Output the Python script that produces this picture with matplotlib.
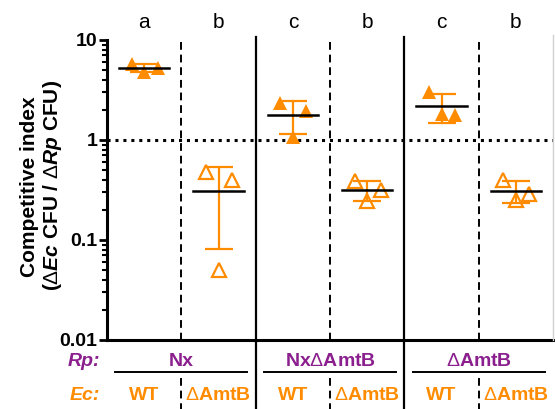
import numpy as np
import matplotlib.pyplot as plt
from matplotlib.lines import Line2D
from matplotlib.transforms import blended_transform_factory

plt.rcParams['font.family'] = ['Liberation Sans', 'DejaVu Sans']
plt.rcParams['mathtext.fontset'] = 'custom'
plt.rcParams['mathtext.rm'] = 'Liberation Sans'
plt.rcParams['mathtext.it'] = 'Liberation Sans:italic'
plt.rcParams['mathtext.bf'] = 'Liberation Sans:bold'
plt.rcParams['mathtext.bfit'] = 'Liberation Sans:italic:bold'

# data: three replicates per group (left, middle, right point)
g1_wt_nx = [5.75, 4.84, 5.25]
g2_amtb_nx = [0.484, 0.050, 0.396]
g3_wt_nxamtb = [2.32, 1.08, 1.97]
g4_amtb_nxamtb = [0.385, 0.248, 0.316]
g5_wt_amtb = [3.02, 1.80, 1.78]
g6_amtb_amtb = [0.396, 0.25, 0.29]

groups = [g1_wt_nx, g2_amtb_nx, g3_wt_nxamtb, g4_amtb_nxamtb, g5_wt_amtb, g6_amtb_amtb]
filled = [True, False, True, False, True, False]
letters = ['a', 'b', 'c', 'b', 'c', 'b']
D = r'$\mathrm{\Delta}$'
ec_labels = ['WT', D + 'AmtB', 'WT', D + 'AmtB', 'WT', D + 'AmtB']
rp_labels = ['Nx', 'Nx' + D + 'AmtB', D + 'AmtB']

orange = '#FF8C00'
purple = '#8B1F8E'
jitter = [-0.17, 0.0, 0.18]

fig = plt.figure(figsize=(5.55, 4.09), dpi=100)
ax = fig.add_axes([107/555, 1-340/409, 446/555, 300/409])

for i, vals in enumerate(groups):
    xs = [i + j for j in jitter]
    if filled[i]:
        ax.plot(xs, vals, '^', color=orange, markersize=10.5, mec=orange, mew=0, zorder=3)
    else:
        ax.plot(xs, vals, '^', mfc='white', mec=orange, markersize=10, mew=1.6, zorder=3)
    m = np.mean(vals)
    sd = np.std(vals, ddof=1)
    ax.errorbar(i, m, yerr=sd, color=orange, capsize=10, elinewidth=1.6, capthick=1.6, fmt='none', zorder=4)
    ax.plot([i - 0.34, i + 0.34], [m, m], color='black', lw=1.8, zorder=5)

ax.set_yscale('log')
ax.set_ylim(0.01, 10)
ax.set_xlim(-0.5, 5.5)
ax.set_xticks([])
ax.set_yticks([0.01, 0.1, 1, 10])
ax.set_yticklabels(['0.01', '0.1', '1', '10'], fontsize=14, fontweight='bold')
ax.tick_params(axis='y', which='major', length=6, width=2, pad=1)
ax.tick_params(axis='y', which='minor', length=3.5, width=1.5)
for s in ['top', 'right']:
    ax.spines[s].set_visible(False)
ax.spines['left'].set_linewidth(2.2)
ax.spines['bottom'].set_linewidth(2.2)

ax.axhline(1, color='black', lw=2.2, ls=(0, (1, 1.6)), zorder=2)

tr = blended_transform_factory(ax.transData, fig.transFigure)
y_ax = 1 - 340/409
# solid dividers
for x in [1.5, 3.5]:
    fig.add_artist(Line2D([x, x], [1-37/409, 0], transform=tr, color='black', lw=1.6))
# dashed dividers
for x in [0.5, 2.5, 4.5]:
    fig.add_artist(Line2D([x, x], [1-42/409, y_ax], transform=tr, color='black', lw=1.4, ls=(0, (4, 2.5))))
    fig.add_artist(Line2D([x, x], [1-378/409, 0], transform=tr, color='black', lw=1.4, ls=(0, (4, 2.5))))
# faint right border
fig.add_artist(Line2D([5.5, 5.5], [1-35/409, y_ax], transform=tr, color='#d0d0d0', lw=1))

for i, t in enumerate(letters):
    fig.text(i, 1-22/409, t, transform=tr, ha='center', va='center', fontsize=15)

fig.text(30/555, 1-187/409, 'Competitive index', rotation=90, ha='center', va='center',
         fontsize=15, fontweight='bold')
fig.text(53/555, 1-185/409, r'($\mathrm{\Delta}\mathbfit{Ec}$ CFU / $\mathrm{\Delta}\mathbfit{Rp}$ CFU)',
         rotation=90, ha='center', va='center', fontsize=15, fontweight='bold')

# bottom table
fig.text(100/555, 1-361/409, 'Rp:', ha='right', va='center', fontsize=14, fontweight='bold',
         style='italic', color=purple)
fig.text(100/555, 1-396/409, 'Ec:', ha='right', va='center', fontsize=14, fontweight='bold',
         style='italic', color=orange)
for k, t in enumerate(rp_labels):
    c = 2*k + 0.5
    fig.text(c, 1-361/409, t, transform=tr, ha='center', va='center', fontsize=14,
             fontweight='bold', color=purple)
    fig.add_artist(Line2D([c - 0.89, c + 0.89], [1-372/409, 1-372/409], transform=tr,
                          color='black', lw=1.4))
for i, t in enumerate(ec_labels):
    fig.text(i, 1-396/409, t, transform=tr, ha='center', va='center', fontsize=14,
             fontweight='bold', color=orange)

fig.savefig('out.png', dpi=100)
